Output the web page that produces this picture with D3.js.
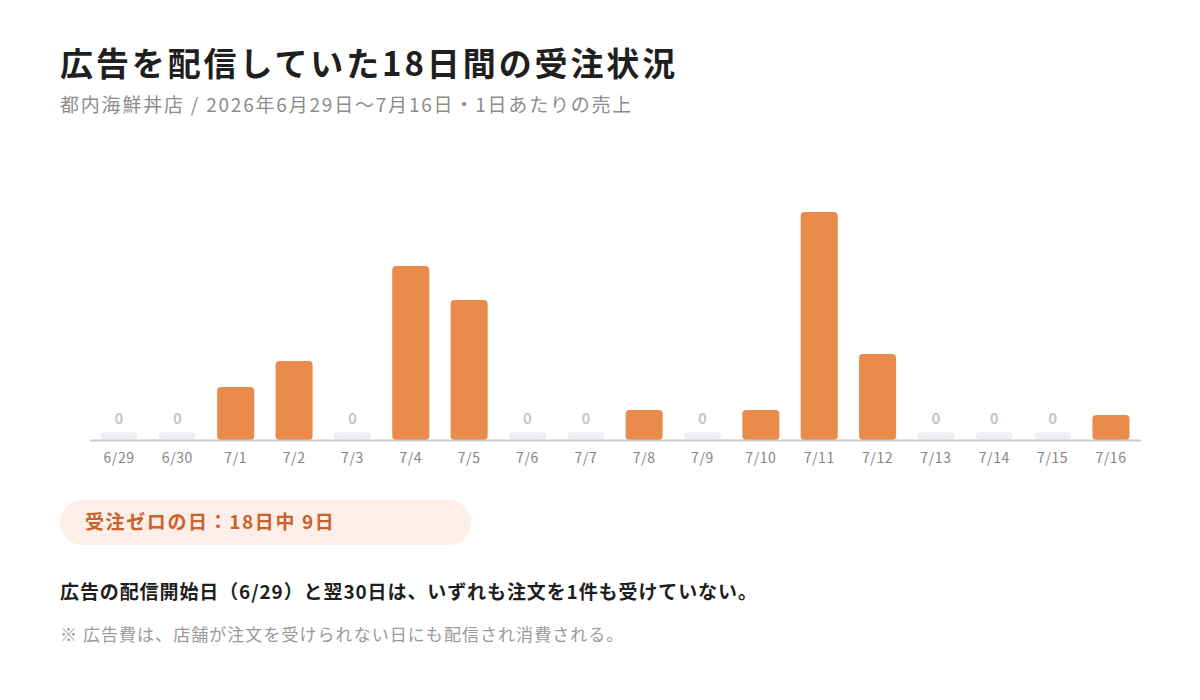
<!DOCTYPE html>
<html lang="ja">
<head>
<meta charset="utf-8">
<script src="https://cdn.jsdelivr.net/npm/d3@7/dist/d3.min.js"></script>
<style>
  html, body { margin: 0; padding: 0; background: #fff; }
  svg { display: block; font-family: "Noto Sans CJK JP", "Noto Sans", sans-serif; }
</style>
</head>
<body>
<div id="chart"></div>
<script>
// 1日あたりの売上（円）
const days = ['6/29','6/30','7/1','7/2','7/3','7/4','7/5','7/6','7/7','7/8','7/9','7/10','7/11','7/12','7/13','7/14','7/15','7/16'];
const sales = [0, 0, 21200, 31600, 0, 69600, 56000, 0, 0, 12000, 0, 12000, 91200, 34400, 0, 0, 0, 10000];

const title = '広告を配信していた18日間の受注状況';
const subtitle = '都内海鮮丼店 / 2026年6月29日〜7月16日・1日あたりの売上';
const badgeText = '受注ゼロの日：18日中 9日';
const lead = '広告の配信開始日（6/29）と翌30日は、いずれも注文を1件も受けていない。';
const note = '※ 広告費は、店舗が注文を受けられない日にも配信され消費される。';

const W = 1200, H = 700;
const orange = '#e98b4a';

const svg = d3.select('#chart').append('svg')
  .attr('width', W)
  .attr('height', H);

svg.append('text')
  .attr('x', 60).attr('y', 76)
  .attr('font-size', 33).attr('font-weight', 700)
  .attr('letter-spacing', 2.9)
  .attr('fill', '#1f1f1f')
  .text(title);

svg.append('text')
  .attr('x', 60).attr('y', 112)
  .attr('font-size', 19)
  .attr('letter-spacing', 1.8)
  .attr('fill', '#8c8c8c')
  .text(subtitle);

const data = days.map((d, i) => ({ day: d, value: sales[i] }));

const x = d3.scaleBand()
  .domain(days)
  .range([90, 1140])
  .paddingInner(0.365)
  .paddingOuter(0.18);

const base = 440;
const y = d3.scaleLinear()
  .domain([0, d3.max(sales)])
  .range([base, 212]);

const g = svg.append('g');

// 受注ゼロの日はグレーの目印
const zero = data.filter(d => d.value === 0);
g.selectAll('.zero')
  .data(zero)
  .enter().append('rect')
  .attr('class', 'zero')
  .attr('x', d => x(d.day))
  .attr('y', base - 8)
  .attr('width', x.bandwidth())
  .attr('height', 8)
  .attr('rx', 4)
  .attr('fill', '#eef0f4');

g.selectAll('.zeroLabel')
  .data(zero)
  .enter().append('text')
  .attr('class', 'zeroLabel')
  .attr('x', d => x(d.day) + x.bandwidth() / 2)
  .attr('y', base - 16)
  .attr('text-anchor', 'middle')
  .attr('font-size', 15)
  .attr('font-weight', 700)
  .attr('fill', '#c3c6cc')
  .text('0');

g.selectAll('.bar')
  .data(data.filter(d => d.value > 0))
  .enter().append('rect')
  .attr('class', 'bar')
  .attr('x', d => x(d.day))
  .attr('y', d => y(d.value))
  .attr('width', x.bandwidth())
  .attr('height', d => base - y(d.value))
  .attr('rx', 4)
  .attr('fill', orange);

// 基線
g.append('line')
  .attr('x1', 90).attr('x2', 1141)
  .attr('y1', base + 0.5).attr('y2', base + 0.5)
  .attr('stroke', '#c7c9cd')
  .attr('stroke-width', 2);

const xAxis = d3.axisBottom(x).tickSize(0).tickPadding(0);
const ax = svg.append('g')
  .attr('transform', `translate(0,${base + 13})`)
  .call(xAxis);
ax.select('.domain').remove();
ax.selectAll('text')
  .attr('dy', '0.71em')
  .attr('font-family', '"Noto Sans CJK JP", sans-serif')
  .attr('font-size', 14)
  .attr('letter-spacing', 0.6)
  .attr('fill', '#858585');

// 受注ゼロ日数のバッジ
svg.append('rect')
  .attr('x', 60).attr('y', 500)
  .attr('width', 411).attr('height', 45)
  .attr('rx', 22.5)
  .attr('fill', '#fdefe7');

svg.append('text')
  .attr('x', 85).attr('y', 529)
  .attr('font-size', 19).attr('font-weight', 700)
  .attr('letter-spacing', 1.6)
  .attr('fill', '#c9622c')
  .text(badgeText);

svg.append('text')
  .attr('x', 60).attr('y', 599)
  .attr('font-size', 19).attr('font-weight', 700)
  .attr('letter-spacing', 0.9)
  .attr('fill', '#1f1f1f')
  .text(lead);

svg.append('text')
  .attr('x', 60).attr('y', 641)
  .attr('font-size', 17)
  .attr('letter-spacing', 1.05)
  .attr('fill', '#9a9a9a')
  .text(note);
</script>
</body>
</html>
